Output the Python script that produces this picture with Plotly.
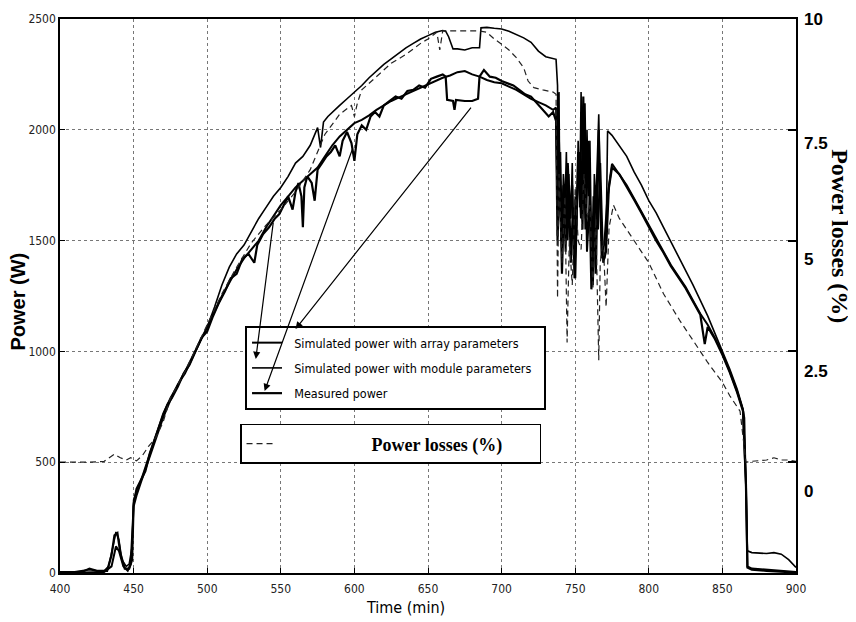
import plotly.graph_objects as go

# ---------------- data ----------------
# Upper solid curve
t_upper = [400, 410, 420, 425, 430, 433, 436, 438, 440, 442, 445, 447, 449, 450, 452, 455, 458, 462, 466, 470,
           475, 480, 485, 490, 495, 500, 505, 510, 515, 520, 525, 530, 535, 540, 545, 550, 555, 560, 565, 570,
           575, 577, 579, 582, 585, 590, 595, 600, 605, 610, 615, 620, 625, 630, 635, 640, 645, 650, 655, 660,
           662, 664, 667, 670, 675, 680, 685, 686, 690, 695, 700, 705, 710, 715, 720, 725, 730, 735, 737,
           738, 738.5, 739, 739.5, 740, 741, 742, 743, 744, 745, 746, 747, 748, 749, 750, 751, 752, 753, 754, 755,
           756, 757, 758, 759, 760, 761, 762, 763, 764, 766, 767, 768, 769, 770, 771, 772,
           775, 780, 785, 790, 795, 800, 805, 810, 815, 820, 825, 830, 835, 840, 845, 850, 855,
           860, 864, 865, 866, 867, 870, 875, 880, 885, 890, 895, 898, 900]
p_upper = [5, 5, 15, 10, 10, 30, 120, 185, 150, 60, 30, 40, 120, 330, 370, 420, 480, 560, 640, 720,
           790, 850, 900, 970, 1040, 1110, 1200, 1300, 1380, 1440, 1480, 1540, 1600, 1650, 1700, 1740, 1790, 1850, 1880, 1930,
           2010, 1920, 2035, 2060, 2080, 2110, 2140, 2170, 2200, 2235, 2265, 2295, 2320, 2345, 2370, 2390, 2410, 2425, 2440, 2448,
           2445, 2420, 2365, 2365, 2360, 2370, 2370, 2460, 2462, 2458, 2455, 2445, 2430, 2415, 2395, 2355, 2330, 2320, 2318,
           2200, 1600, 2170, 1700, 1900, 1550, 1800, 1650, 1900, 1500, 1750, 1600, 1850, 1400, 1700, 1550, 1950, 1650, 2170, 1750,
           2100, 1600, 2000, 1700, 1950, 1500, 1350, 1800, 1650, 2070, 1700, 1500, 1450, 1420, 1500, 1995,
           1975, 1930, 1880, 1810, 1750, 1680, 1625, 1560, 1495, 1430, 1370, 1300, 1230, 1160, 1080, 1000, 920,
           830, 740, 700, 400, 100, 92, 90, 88, 92, 85, 60, 40, 25]

# Middle solid curve
t_module = [400, 420, 430, 435, 438, 440, 443, 446, 448, 450, 452, 455, 458, 462, 466, 470, 475, 480, 485, 490,
            495, 500, 505, 510, 515, 520, 525, 530, 535, 540, 545, 550, 555, 560, 565, 570, 575, 580, 585, 590,
            595, 600, 605, 610, 615, 620, 625, 630, 635, 640, 645, 650, 655, 660, 665, 670, 675, 680, 685, 690,
            695, 700, 705, 710, 715, 720, 725, 730, 735, 737,
            738, 739, 740.5, 742, 743.5, 745, 746.5, 748, 749.5, 751, 753, 755, 756.5, 758, 760, 762, 764, 765.5, 767, 769,
            771, 773, 775, 780,
            785, 790, 795, 800, 805, 810, 815, 820, 825, 830, 835, 840, 845, 850, 855, 860, 864, 866, 867, 870,
            880, 890, 900]
p_module = [0, 5, 5, 30, 120, 100, 30, 10, 40, 300, 350, 410, 470, 550, 630, 700, 780, 850, 910, 975,
            1040, 1110, 1180, 1250, 1310, 1370, 1420, 1460, 1500, 1560, 1610, 1660, 1700, 1740, 1770, 1800, 1830, 1880, 1930, 1970,
            2000, 2030, 2045, 2065, 2090, 2110, 2130, 2145, 2160, 2175, 2190, 2205, 2220, 2235, 2245, 2260, 2265, 2250, 2240, 2225,
            2215, 2210, 2195, 2180, 2160, 2140, 2125, 2110, 2090, 2100,
            1620, 1950, 1500, 1750, 1450, 1850, 1600, 1750, 1330, 1650, 1900, 1550, 2120, 1450, 1700, 1300, 1750, 1550, 1850, 1400,
            1450, 1750, 1846, 1800,
            1750, 1690, 1630, 1565, 1505, 1450, 1390, 1340, 1290, 1230, 1170, 1120, 1060, 990, 910, 820, 735, 400, 30, 20,
            15, 10, 5]

# Lower (noisy) solid curve
t_measured = [400, 415, 420, 425, 432, 435, 437, 439, 441, 444, 447, 449, 450, 452, 455, 458, 461, 464, 467, 470,
              473, 476, 480, 484, 488, 492, 496, 500, 504, 508, 512, 516, 520, 524, 528, 532, 534, 538, 542, 546,
              549, 552, 555, 558, 560, 562, 564, 565, 566, 568, 571, 573, 575, 578, 581, 584, 587, 590, 592, 595,
              598, 600, 602, 605, 608, 611, 614, 617, 620, 624, 628, 632, 636, 640, 644, 648, 652, 656, 660, 662,
              663, 667, 668, 669, 675, 680, 684, 685, 688, 692, 696, 700, 704, 708, 712, 716, 720, 724, 728, 732,
              735, 737,
              738, 739.5, 741, 742.5, 744, 745.5, 747, 748.5, 750, 752, 754, 755.5, 757, 759, 761, 762.5, 764, 766, 768, 770,
              772, 775,
              780, 785, 790, 795, 800, 805, 810, 815, 820, 825, 830, 835, 838, 840, 845, 850, 855, 860, 864, 866,
              867, 870, 880, 890, 900]
p_measured = [0, 5, 20, 10, 10, 80, 170, 180, 90, 20, 20, 60, 310, 380, 420, 460, 540, 600, 660, 710,
              760, 790, 840, 900, 940, 1000, 1060, 1090, 1160, 1220, 1270, 1330, 1350, 1420, 1440, 1400, 1480, 1530, 1560, 1600,
              1620, 1660, 1700, 1640, 1720, 1760, 1700, 1560, 1740, 1790, 1760, 1680, 1820, 1850, 1880, 1900, 1930, 1880, 1950, 1990,
              1940, 1860, 1980, 2020, 2000, 2060, 2080, 2060, 2110, 2130, 2150, 2140, 2175, 2180, 2200, 2190, 2230, 2240, 2250, 2240,
              2135, 2130, 2090, 2135, 2130, 2130, 2140, 2240, 2270, 2240, 2235, 2220, 2210, 2200, 2180, 2160, 2150, 2120, 2090, 2060,
              2080, 2040,
              1500, 1850, 1350, 1700, 1550, 1800, 1400, 1650, 1330, 1900, 1600, 2150, 1550, 1950, 1280, 1700, 1350, 2000, 1420, 1500,
              1700, 1830,
              1800, 1745, 1685, 1625, 1560, 1500, 1445, 1385, 1335, 1285, 1225, 1165, 1033, 1110, 1055, 985, 905, 815, 730, 400,
              25, 15, 10, 5, 2]

# Power losses (%) dashed curve
t_losses = [400, 410, 420, 430, 434, 437, 441, 445, 448, 452, 456, 460, 465, 470, 475, 480, 485, 490, 495, 500,
            510, 520, 530, 540, 550, 560, 570, 580, 590, 598, 600, 602, 605, 610, 617, 625, 635, 645, 650, 656,
            658, 660, 670, 680, 685, 690, 695, 700, 705, 710, 715, 718, 722, 728, 735, 737,
            738, 739, 741, 743, 744.5, 746, 748, 750, 752, 754, 756, 758, 760, 762, 764, 766, 767, 769, 771, 773,
            776, 780, 790, 800, 810, 821, 830, 840, 850, 855, 862, 866, 870, 880, 885, 890, 895, 900]
losses = [0.0, 0.0, 0.0, 0.02, 0.12, 0.18, 0.1, 0.05, 0.1, 0.03, 0.15, 0.35, 0.55, 0.9, 1.45, 1.75, 2.05, 2.4, 2.75, 3.1,
          3.8, 4.4, 4.95, 5.35, 5.7, 6.1, 6.6, 7.4, 7.85, 8.05, 7.8, 8.1, 8.4, 8.55, 8.75, 9.0, 9.2, 9.45, 9.55, 9.7,
          9.3, 9.73, 9.73, 9.73, 9.73, 9.7, 9.55, 9.43, 9.3, 9.13, 8.9, 8.6, 8.45, 8.4, 8.35, 8.3,
          3.7, 6.5, 4.5, 6.0, 2.7, 5.0, 4.0, 6.2, 5.0, 4.8, 6.5, 5.5, 5.8, 3.9, 5.5, 2.3, 4.5, 5.0, 3.5, 5.3,
          5.8, 5.5, 5.0, 4.5, 3.8, 3.2, 2.75, 2.25, 1.8, 1.5, 1.15, 0.0, 0.02, 0.05, 0.1, 0.05, 0.05, 0.02]

names = ["Simulated power with array parameters",
         "Simulated power with module parameters",
         "Measured power"]
loss_name = "Power losses (%)"

x_ticks = [400, 450, 500, 550, 600, 650, 700, 750, 800, 850, 900]
y_ticks = [0, 500, 1000, 1500, 2000, 2500]
y2_ticks = [0, 2.5, 5, 7.5, 10]
y2_labels = ["0", "2.5", "5", "7.5", "10"]

# ---------------- figure ----------------
NARROW = "DejaVu Sans Condensed, Liberation Sans Narrow, sans-serif"
SANS = "Liberation Sans, Arial, sans-serif"
SERIF = "Liberation Serif, Times New Roman, serif"
NB = "\u00a0"

fig = go.Figure()
fig.add_trace(go.Scatter(x=t_module, y=p_module, mode="lines", name=NB * 2 + names[0],
                         line=dict(color="black", width=2), legend="legend", legendgroup="a"))
fig.add_trace(go.Scatter(x=t_upper, y=p_upper, mode="lines", name=NB * 2 + names[1] + NB * 2,
                         line=dict(color="black", width=1.6), legend="legend", legendgroup="b"))
fig.add_trace(go.Scatter(x=t_measured, y=p_measured, mode="lines", name=NB * 2 + names[2],
                         line=dict(color="black", width=2.2), legend="legend", legendgroup="c"))
fig.add_trace(go.Scatter(x=t_losses, y=losses, mode="lines", name=NB * 20 + loss_name + NB * 7,
                         line=dict(color="#222", width=1.2, dash="6px,4px"),
                         yaxis="y2", legend="legend2"))

grid = dict(showgrid=True, gridcolor="#777", griddash="dot", gridwidth=1,
            showline=True, linecolor="black", linewidth=1.5, mirror=True,
            ticks="inside", ticklen=5, tickcolor="black", zeroline=False, automargin=False)

fig.update_layout(
    width=856, height=622,
    margin=dict(l=52, r=68, t=11, b=57),
    paper_bgcolor="white", plot_bgcolor="white",
    xaxis=dict(range=[400, 900], tickvals=x_ticks, **grid, ticklabelstandoff=4,
               tickfont=dict(family=NARROW, size=12, color="#222")),
    yaxis=dict(range=[0, 2500], tickvals=y_ticks, **grid,
               tickfont=dict(family=NARROW, size=12, color="#222")),
    yaxis2=dict(range=[-2.5, 10], tickvals=y2_ticks, overlaying="y", side="right",
                showgrid=False, zeroline=False, showticklabels=False, automargin=False,
                ticks="inside", ticklen=8, tickcolor="black", tickwidth=2),
    showlegend=True,
    legend=dict(x=0.2514, y=0.4458, xanchor="left", yanchor="top",
                bgcolor="white", bordercolor="black", borderwidth=2,
                font=dict(family=NARROW, size=12.5, color="black"),
                itemwidth=30, tracegroupgap=6),
    legend2=dict(x=0.2446, y=0.269, xanchor="left", yanchor="top",
                 bgcolor="white", bordercolor="black", borderwidth=1.5,
                 font=dict(family=SERIF, size=18, color="black", weight="bold"),
                 itemwidth=30),
)

# axis titles
fig.add_annotation(text="<b>Power (W)</b>", xref="paper", yref="paper", x=0, y=0.49,
                   xanchor="center", yanchor="middle",
                   xshift=-42, textangle=-90, showarrow=False,
                   font=dict(family=SANS, size=20, color="black"))
fig.add_annotation(text="Time (min)", xref="paper", yref="paper", x=0.469, y=0,
                   xanchor="center", yanchor="middle", yshift=-34, showarrow=False,
                   font=dict(family=NARROW, size=16, color="black"))
fig.add_annotation(text="<b>Power losses (%)</b>", xref="paper", yref="paper", x=1, y=0.608,
                   xanchor="center", yanchor="middle",
                   xshift=44, textangle=90, showarrow=False,
                   font=dict(family=SERIF, size=24, color="black"))
# right tick labels
shifts = [-29, -20, -19, -14, 0]
for v, lab, s in zip(y2_ticks, y2_labels, shifts):
    fig.add_annotation(text="<b>" + lab + "</b>", xref="paper", yref="y2", x=1, y=v,
                       xanchor="left", yanchor="middle", xshift=6, yshift=s, showarrow=False,
                       font=dict(family=SANS, size=17, color="black"))

# pointer arrows from curves to legend
arrows = [((545, 1588), (533, 966)), ((599, 1919), (539, 821)), ((680, 2107), (560, 1101))]
for (tx, ty), (hx, hy) in arrows:
    fig.add_annotation(x=hx, y=hy, ax=tx, ay=ty, xref="x", yref="y", axref="x", ayref="y",
                       text="", showarrow=True, arrowhead=2, arrowsize=1.2, arrowwidth=1.2,
                       arrowcolor="black")

fig.write_html("out.html")
